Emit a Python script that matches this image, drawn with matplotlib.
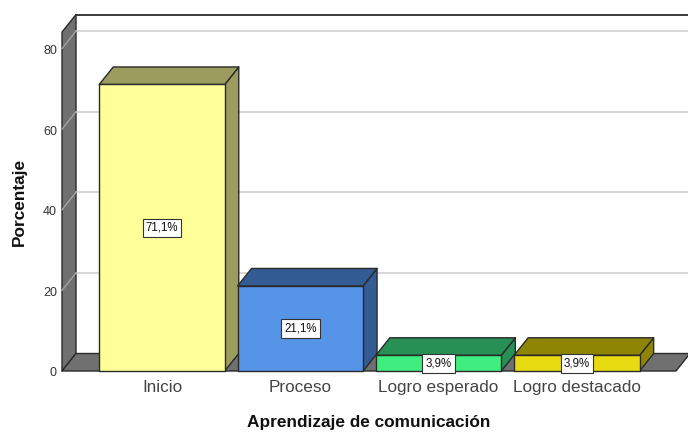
import numpy as np
import matplotlib
matplotlib.use('Agg')
import matplotlib.pyplot as plt
from matplotlib.patches import Polygon

plt.rcParams['font.family'] = ['Liberation Sans', 'DejaVu Sans']

categories = ['Inicio', 'Proceso', 'Logro esperado', 'Logro destacado']
values = [71.1, 21.1, 3.9, 3.9]
labels = ['71,1%', '21,1%', '3,9%', '3,9%']
front_colors = ['#FFFF99', '#5594E6', '#40EE80', '#E8DA10']
dark_colors = ['#9C9C5E', '#345C94', '#279055', '#8F8505']
yticks = [0, 20, 40, 60, 80]

# pixel scale of the picture
px_x = 138.3
px_y = 4.03
dx = 14 / px_x
dy = 17.5 / px_y
w = 125.5 / px_x
x_left = (62 - 162) / px_x
x_right = (676 - 162) / px_x
y_top = 84.1
edge = '#2A2A2A'

fig = plt.figure(figsize=(6.88, 4.32), dpi=100)
ax = fig.add_axes([0, 0, 1, 1])
ax.set_xlim(-162 / px_x, (688 - 162) / px_x)
ax.set_ylim((371 - 432) / px_y, 371 / px_y)
ax.axis('off')


def poly(pts, fc, z, lw=1.0, ec=edge):
    ax.add_patch(Polygon(pts, closed=True, fc=fc, ec=ec, lw=lw, zorder=z, joinstyle='round'))


# walls
poly([(x_left, 0), (x_left, y_top), (x_left + dx, y_top + dy), (x_left + dx, dy)], '#707070', 1)
poly([(x_left, 0), (x_right, 0), (x_right + dx, dy), (x_left + dx, dy)], '#707070', 1)
ax.plot([x_left + dx, x_right + dx * 2], [y_top + dy, y_top + dy], color=edge, lw=1.3, zorder=3)

# gridlines on back wall and side wall
for t in yticks[1:]:
    ax.plot([x_left + dx, x_right + dx * 2], [t + dy, t + dy], color='#CDCDCD', lw=1.1, zorder=2)
    ax.plot([x_left, x_left + dx], [t, t + dy], color='#A8A8A8', lw=0.9, zorder=2)
for t in yticks:
    # labels sit a bit under the tick in the original
    ax.text(x_left - 5 / px_x, t - 0.6, str(t), ha='right', va='center', fontsize=9, color='#333333')

# bars
for i in range(len(values)):
    l = i - w / 2
    r = i + w / 2
    v = values[i]
    poly([(r, 0), (r + dx, dy), (r + dx, v + dy), (r, v)], dark_colors[i], 4)
    poly([(l, v), (r, v), (r + dx, v + dy), (l + dx, v + dy)], dark_colors[i], 4)
    poly([(l, 0), (r, 0), (r, v), (l, v)], front_colors[i], 5)
    ax.text(i, v / 2 if v > 10 else v / 2 - 0.1, labels[i], ha='center', va='center',
            fontsize=8.3, color='#111111', zorder=6,
            bbox=dict(boxstyle='square,pad=0.27', fc='white', ec='#333333', lw=0.8))
    ax.text(i, -4.1, categories[i], ha='center', va='center', fontsize=12.3, color='#444444')

ax.text((368.5 - 162) / px_x, (371 - 423) / px_y, 'Aprendizaje de comunicación', ha='center', va='center',
        fontsize=12.4, fontweight='bold', color='#111111')
ax.text((19 - 162) / px_x, (371 - 202) / px_y, 'Porcentaje', ha='center', va='center', rotation=90,
        fontsize=12.4, fontweight='bold', color='#111111')

fig.savefig('out.png', dpi=100)
